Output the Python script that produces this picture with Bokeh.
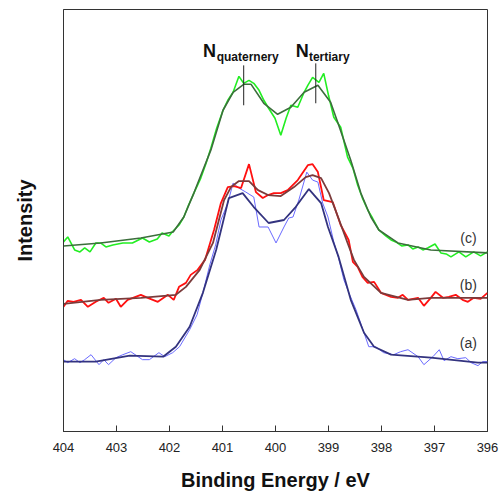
from bokeh.plotting import figure
from bokeh.models import Range1d, Label, FixedTicker
from bokeh.embed import file_html
from bokeh.resources import INLINE

# ---------------- data (binding energy / eV, intensity in a.u.) ----------------
# (c) spectrum - noisy data
c_E = [404.00, 403.92, 403.79, 403.69, 403.60, 403.50, 403.39, 403.30, 403.20, 403.07,
       402.88, 402.70, 402.51, 402.38, 402.23, 402.14, 402.01, 401.95, 401.82, 401.73,
       401.64, 401.54, 401.41, 401.31, 401.22, 401.11, 400.99, 400.90, 400.80, 400.69,
       400.60, 400.50, 400.41, 400.31, 400.22, 400.13, 400.01, 399.90, 399.80, 399.71,
       399.58, 399.46, 399.39, 399.30, 399.18, 399.09, 399.00, 398.90, 398.77, 398.64,
       398.54, 398.45, 398.36, 398.26, 398.17, 398.05, 397.92, 397.82, 397.73, 397.62,
       397.50, 397.41, 397.31, 397.22, 397.13, 396.99, 396.88, 396.78, 396.69, 396.54,
       396.41, 396.26, 396.13, 396.00]
c_I = [191, 196, 183, 181, 185, 181, 190, 190, 186, 188,
       190, 190, 195, 191, 194, 200, 197, 201, 208, 216,
       228, 240, 255, 270, 285, 305, 323, 333, 341, 357,
       350, 353, 350, 343, 333, 325, 315, 298, 315, 328,
       326, 341, 348, 356, 351, 360, 338, 316, 306, 276,
       265, 248, 235, 223, 215, 203, 197, 193, 191, 187,
       188, 184, 186, 183, 185, 189, 180, 179, 176, 181,
       176, 181, 177, 181]
# (c) fit
cf_E = [404.00, 403.30, 402.54, 401.93, 401.73, 401.54, 401.22, 400.99, 400.80, 400.60,
        400.46, 400.22, 399.96, 399.71, 399.46, 399.20, 398.96, 398.82, 398.58, 398.39,
        398.20, 398.05, 397.69, 397.07, 396.00]
cf_I = [187, 190, 195, 201, 216, 240, 283, 323, 341, 349,
        349, 330, 319, 326, 341, 348, 331, 310, 273, 240,
        216, 203, 190, 183, 180]

# (b) spectrum - noisy data
b_E = [404.00, 403.92, 403.81, 403.67, 403.54, 403.39, 403.24, 403.15, 403.01, 402.92,
       402.79, 402.54, 402.41, 402.22, 402.03, 401.92, 401.82, 401.69, 401.60, 401.47,
       401.33, 401.16, 401.03, 400.90, 400.78, 400.65, 400.50, 400.37, 400.24, 400.14,
       400.03, 399.90, 399.77, 399.58, 399.39, 399.30, 399.20, 399.09, 398.92, 398.77,
       398.62, 398.54, 398.45, 398.36, 398.26, 398.14, 398.01, 397.82, 397.69, 397.60,
       397.50, 397.31, 397.20, 397.07, 396.98, 396.84, 396.73, 396.60, 396.47, 396.37,
       396.26, 396.13, 396.00]
b_I = [126, 132, 131, 133, 126, 131, 135, 130, 134, 126,
       133, 138, 135, 131, 138, 133, 146, 150, 158, 163,
       173, 203, 230, 246, 247, 245, 269, 241, 235, 238,
       240, 240, 243, 253, 268, 269, 261, 233, 231, 208,
       193, 171, 166, 156, 150, 151, 140, 136, 135, 138,
       133, 135, 127, 135, 141, 135, 136, 138, 133, 131,
       135, 134, 140]
# (b) fit
bf_E = [404.00, 403.30, 402.54, 401.88, 401.69, 401.43, 401.18, 400.97, 400.84, 400.69,
        400.50, 400.33, 400.14, 399.90, 399.65, 399.43, 399.30, 399.14, 398.99, 398.82,
        398.64, 398.52, 398.33, 398.01, 397.50, 397.07, 396.00]
bf_I = [129, 133, 135, 138, 146, 163, 190, 233, 246, 252,
        252, 243, 238, 237, 246, 256, 258, 255, 240, 216,
        190, 173, 156, 140, 133, 135, 135]

# (a) spectrum - noisy data
a_E = [404.00, 403.92, 403.79, 403.69, 403.60, 403.48, 403.33, 403.24, 403.15, 403.01,
       402.88, 402.73, 402.51, 402.38, 402.20, 402.09, 401.94, 401.81, 401.62, 401.48,
       401.37, 401.24, 401.13, 401.03, 400.90, 400.80, 400.69, 400.56, 400.41, 400.31,
       400.14, 399.99, 399.84, 399.75, 399.67, 399.56, 399.41, 399.30, 399.20, 399.11,
       399.01, 398.90, 398.81, 398.71, 398.60, 398.48, 398.33, 398.24, 398.11, 397.96,
       397.77, 397.64, 397.50, 397.31, 397.20, 397.03, 396.91, 396.82, 396.69, 396.56,
       396.41, 396.31, 396.18, 396.09, 396.00]
a_I = [73, 70, 74, 70, 73, 78, 68, 73, 68, 75,
       78, 81, 73, 73, 80, 76, 80, 86, 103, 118,
       140, 168, 188, 213, 230, 250, 245, 241, 236, 206,
       206, 190, 206, 215, 216, 233, 261, 253, 251, 230,
       216, 191, 175, 153, 138, 123, 100, 86, 86, 80,
       78, 81, 83, 76, 68, 76, 83, 72, 76, 74,
       75, 70, 67, 71, 71]
# (a) fit
af_E = [404.00, 403.39, 402.75, 402.12, 401.88, 401.62, 401.37, 401.12, 400.99, 400.88,
        400.62, 400.41, 400.13, 399.84, 399.62, 399.37, 399.14, 399.01, 398.81, 398.58,
        398.33, 398.14, 397.82, 397.07, 396.18, 396.00]
af_I = [71, 71, 77, 76, 86, 106, 140, 183, 211, 235,
        240, 226, 210, 213, 226, 244, 230, 206, 176, 133,
        100, 86, 78, 75, 70, 70]

# peak markers
peak_names = ["quaternery", "tertiary"]
peak_E = [400.60, 399.24]
peak_lo = [328, 330]
peak_hi = [368, 370]

x_ticks = [404, 403, 402, 401, 400, 399, 398, 397, 396]

FONT = "Liberation Sans"

p = figure(width=500, height=493, output_backend="svg", toolbar_location=None,
           x_range=Range1d(404, 396), y_range=Range1d(1, 424),
           min_border_left=63, min_border_right=13, min_border_top=9, min_border_bottom=61)
p.background_fill_color = "white"
p.border_fill_color = "white"
p.outline_line_color = "#333333"
p.outline_line_width = 1
p.grid.visible = False

# x axis
xa = p.xaxis[0]
xa.ticker = FixedTicker(ticks=x_ticks)
xa.major_label_overrides = {t: str(t) for t in x_ticks}
xa.major_tick_in = 6
xa.major_tick_out = 0
xa.minor_tick_line_color = None
xa.axis_line_color = "#333333"
xa.major_tick_line_color = "#333333"
xa.major_label_text_font = FONT
xa.major_label_text_font_size = "13px"
xa.major_label_text_color = "#222222"
xa.major_label_standoff = 11
xa.axis_label = "Binding Energy / eV"
xa.axis_label_text_font = FONT
xa.axis_label_text_font_style = "bold"
xa.axis_label_text_font_size = "20px"
xa.axis_label_text_color = "#111111"
xa.axis_label_standoff = 14

# y axis (no ticks)
ya = p.yaxis[0]
ya.ticker = FixedTicker(ticks=[])
ya.minor_tick_line_color = None
ya.major_tick_line_color = None
ya.axis_line_color = "#333333"
ya.axis_label = "Intensity"
ya.axis_label_text_font = FONT
ya.axis_label_text_font_style = "bold"
ya.axis_label_text_font_size = "20px"
ya.axis_label_text_color = "#111111"
ya.axis_label_standoff = 28

# spectra
p.line(a_E, a_I, line_color="#6a6aff", line_width=1)
p.line(af_E, af_I, line_color="#33337f", line_width=1.8)
p.line(b_E, b_I, line_color="#ff1010", line_width=1.8)
p.line(bf_E, bf_I, line_color="#7b3b3b", line_width=1.8)
p.line(c_E, c_I, line_color="#22ee22", line_width=1.6)
p.line(cf_E, cf_I, line_color="#3c6e3c", line_width=1.6)

# peak markers
for e, lo, hi in zip(peak_E, peak_lo, peak_hi):
    p.segment(x0=[e], y0=[lo], x1=[e], y1=[hi], line_color="#222222", line_width=1)

# peak labels
p.add_layout(Label(x=401.37, y=382, text="N", text_font=FONT, text_font_style="bold",
                   text_font_size="18px", text_color="#111111", text_align="left",
                   text_baseline="alphabetic"))
p.add_layout(Label(x=401.11, y=376, text=peak_names[0], text_font=FONT, text_font_style="bold",
                   text_font_size="12px", text_color="#111111", text_align="left",
                   text_baseline="alphabetic"))
p.add_layout(Label(x=399.62, y=382, text="N", text_font=FONT, text_font_style="bold",
                   text_font_size="18px", text_color="#111111", text_align="left",
                   text_baseline="alphabetic"))
p.add_layout(Label(x=399.37, y=376, text=peak_names[1], text_font=FONT, text_font_style="bold",
                   text_font_size="12px", text_color="#111111", text_align="left",
                   text_baseline="alphabetic"))

# series labels
for txt, yy in [("(c)", 195), ("(b)", 148), ("(a)", 90)]:
    p.add_layout(Label(x=396.36, y=yy, text=txt, text_font=FONT, text_font_size="14px",
                       text_color="#333333", text_align="center", text_baseline="middle"))

open("out.html", "w").write(file_html(p, INLINE))
